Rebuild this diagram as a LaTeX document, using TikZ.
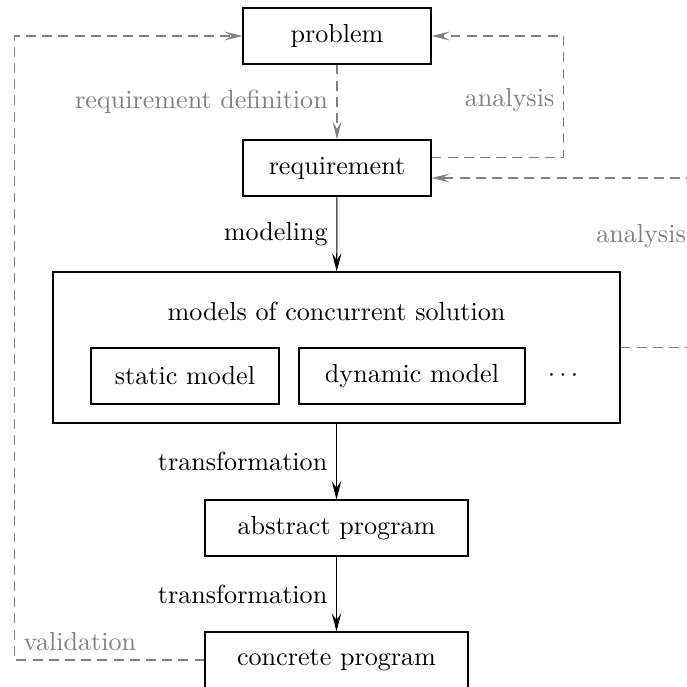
\documentclass[tikz,border=0pt]{standalone}
\usetikzlibrary{arrows.meta}
\def\pxu{0.383pt}
\begin{document}
\begin{tikzpicture}[x=0.383pt,y=-0.383pt,
  box/.style={draw,line width=0.4pt,inner sep=0pt,minimum height={56*\pxu}},
  solidarr/.style={line width=0.4pt,-{Stealth[length=7pt,width=3.6pt,inset=2.6pt]}},
  dasharr/.style={gray,line width=0.4pt,dash pattern=on 3.8pt off 2.4pt,-{Stealth[length=7pt,width=3.4pt,inset=3pt]}},
  glabel/.style={text=gray}]
\useasboundingbox (0,0) rectangle (687,686);
\clip (0,0) rectangle (687,686);
% nodes
\node[box,minimum width={188*\pxu}] (prob) at (337,36) {problem};
\node[box,minimum width={188*\pxu}] (req) at (337,168) {requirement};
\node[box,minimum width={567*\pxu},minimum height={151*\pxu}] (models) at (336.5,347.5) {};
\node (title) at (336.5,311) {models of concurrent solution};
\node[box,minimum width={188*\pxu}] (static) at (185,376) {static model};
\node[box,minimum width={226*\pxu}] (dyn) at (412,376) {dynamic model};
\node (dots) at (563,376) {$\cdots$};
\node[box,minimum width={263*\pxu}] (abs) at (336.5,528) {abstract program};
\node[box,minimum width={263*\pxu}] (conc) at (336.5,660) {concrete program};
\coordinate (rc) at (695,178);
% solid arrows
\draw[solidarr] (req) -- node[left] {modeling} (models);
\draw[solidarr] (models) -- node[left] {transformation} (abs);
\draw[solidarr] (abs) -- node[left] {transformation} (conc);
% dashed arrows
\draw[dasharr] (prob) -- node[left,glabel] {requirement definition} (req);
\draw[dasharr] ([yshift=4.2pt]req.east) -| node[pos=0.735,left,glabel] {analysis} ([xshift={132*\pxu}]prob.east) -- (prob.east);
\draw[dasharr] (models.east) -| node[pos=0.83,left,glabel] {analysis} (rc) -- (rc -| req.east);
\draw[dasharr] (conc.west) -| node[pos=0.5,anchor=south west,glabel] {validation} ([xshift={-228*\pxu}]prob.west) -- (prob.west);
\end{tikzpicture}
\end{document}
